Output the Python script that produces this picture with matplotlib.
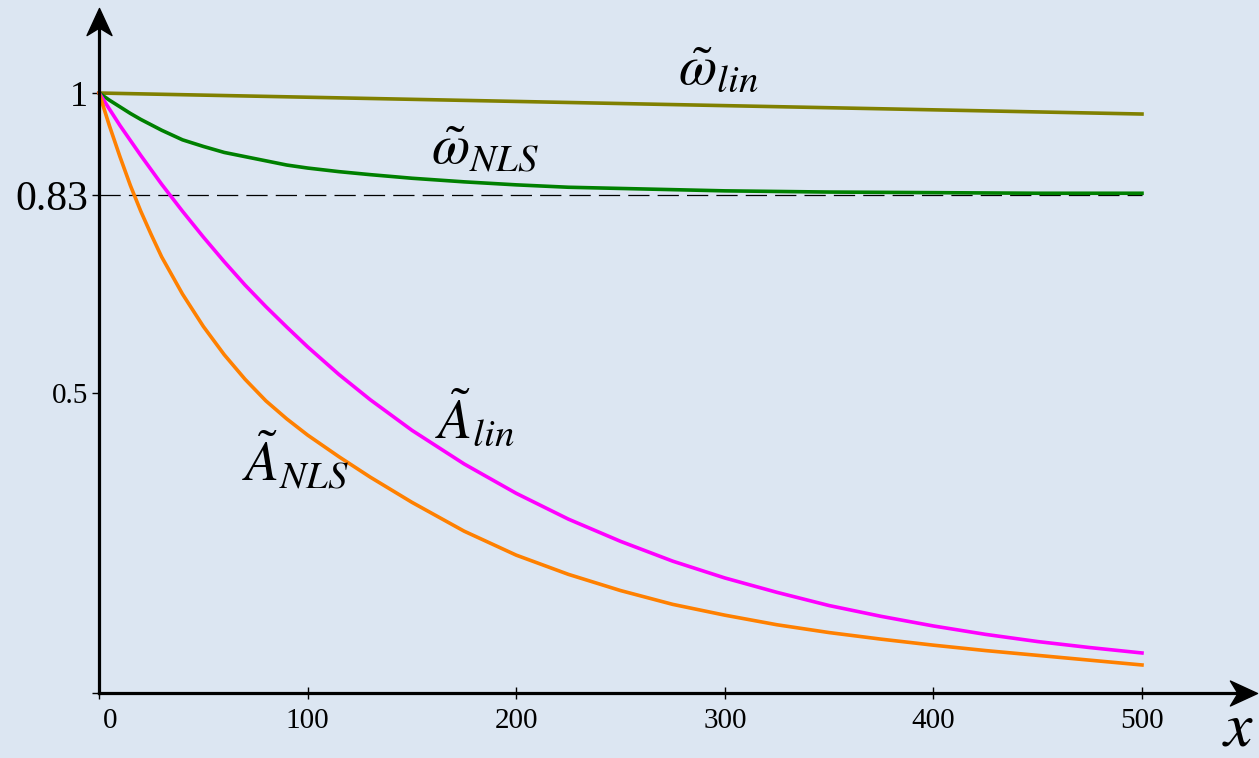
import matplotlib
matplotlib.use("Agg")
import matplotlib.pyplot as plt
import matplotlib.transforms as mtransforms
from matplotlib.path import Path
from matplotlib.markers import MarkerStyle

# ---- data ----
x = [0, 5, 10, 15, 20, 25, 30, 40, 50, 60, 70, 80, 90, 100, 115, 130, 150, 175,
     200, 225, 250, 275, 300, 325, 350, 375, 400, 425, 450, 475, 500]
omega_nls = [1.0, 0.988, 0.977, 0.966, 0.956, 0.947, 0.938, 0.922, 0.911, 0.901,
             0.894, 0.887, 0.880, 0.875, 0.869, 0.864, 0.858, 0.852, 0.847, 0.843,
             0.841, 0.839, 0.837, 0.836, 0.835, 0.8345, 0.834, 0.8335, 0.833,
             0.833, 0.833]
A_lin = [1.0, 0.973, 0.946, 0.921, 0.896, 0.872, 0.848, 0.803, 0.760, 0.719,
         0.680, 0.644, 0.610, 0.577, 0.531, 0.489, 0.438, 0.382, 0.333, 0.290,
         0.253, 0.220, 0.192, 0.168, 0.146, 0.128, 0.112, 0.098, 0.086, 0.076,
         0.067]
A_nls = [1.0, 0.945, 0.894, 0.846, 0.803, 0.764, 0.727, 0.665, 0.611, 0.564,
         0.523, 0.487, 0.457, 0.430, 0.394, 0.360, 0.318, 0.270, 0.230, 0.198,
         0.171, 0.148, 0.130, 0.114, 0.101, 0.090, 0.080, 0.071, 0.063, 0.055,
         0.047]
x_omega_lin = [0, 500]
omega_lin = [1.0, 0.965]
asymptote = 0.83
xticks = [0, 100, 200, 300, 400, 500]
xticklabels = ["0", "100", "200", "300", "400", "500"]
yticks = [0, 0.5, 0.83, 1]
yticklabels = ["", "0.5", "0.83", "1"]

plt.rcParams['mathtext.fontset'] = 'stix'
plt.rcParams['font.family'] = ['Liberation Serif', 'DejaVu Serif']

bg = '#DCE6F2'
fig = plt.figure(figsize=(12.59, 7.58), dpi=100, facecolor=bg)
ax = fig.add_axes([0, 0, 1, 1], facecolor=bg)
ax.set_xlim(-47.5, 556.1)
ax.set_ylim(-0.108, 1.155)

# curves
ax.plot([x[0], x[-1]], [asymptote, asymptote], color='black', lw=0.9,
        dashes=(17, 6.5), zorder=2)
ax.plot(x_omega_lin, omega_lin, color='#808000', lw=2.6, zorder=3)
ax.plot(x, omega_nls, color='#008000', lw=2.6, zorder=3)
ax.plot(x, A_lin, color='#FF00FF', lw=2.6, zorder=3)
ax.plot(x, A_nls, color='#FF8000', lw=2.6, zorder=3)

# axes (spines through the origin with arrow heads)
for s in ['top', 'right']:
    ax.spines[s].set_visible(False)
ax.spines['left'].set_position(('data', 0))
ax.spines['bottom'].set_position(('data', 0))
ax.spines['left'].set_bounds(0, 1.125)
ax.spines['bottom'].set_bounds(0, 547)
for s in ['left', 'bottom']:
    ax.spines[s].set_linewidth(2.3)
    ax.spines[s].set_color('black')
    ax.spines[s].set_zorder(4)

up = Path([(0, 0), (0.46, -1), (0, -0.72), (-0.46, -1), (0, 0)],
          [Path.MOVETO, Path.LINETO, Path.LINETO, Path.LINETO, Path.CLOSEPOLY])
right = Path([(0, 0), (-1, 0.46), (-0.72, 0), (-1, -0.46), (0, 0)],
             [Path.MOVETO, Path.LINETO, Path.LINETO, Path.LINETO, Path.CLOSEPOLY])
ax.plot([0], [1.142], marker=MarkerStyle(up), markersize=39, color='black',
        clip_on=False, zorder=5, linestyle='none')
ax.plot([555], [0], marker=MarkerStyle(right), markersize=39, color='black',
        clip_on=False, zorder=5, linestyle='none')

ax.set_xticks(xticks, xticklabels)
ax.set_yticks(yticks, yticklabels)
ax.tick_params(axis='x', direction='inout', length=8, width=1, pad=7,
               labelsize=21, colors='black')
ax.tick_params(axis='y', direction='out', length=5, width=1, pad=3,
               labelsize=21, colors='black')
ysizes = {"0.5": 21, "0.83": 30, "1": 26}
for lab in ax.get_yticklabels():
    t = lab.get_text()
    if t in ysizes:
        lab.set_fontsize(ysizes[t])
# the "0" label sits slightly right of the origin
for lab in ax.get_xticklabels():
    if lab.get_text() == "0":
        lab.set_transform(lab.get_transform() +
                          mtransforms.ScaledTranslation(11 / 100, 0, fig.dpi_scale_trans))

# curve labels
ax.text(297, 1.038, r'$\tilde{\omega}_{lin}$', fontsize=40, ha='center', va='center')
ax.text(185, 0.905, r'$\tilde{\omega}_{NLS}$', fontsize=40, ha='center', va='center')
ax.text(180, 0.455, r'$\tilde{A}_{lin}$', fontsize=40, ha='center', va='center')
ax.text(94, 0.385, r'$\tilde{A}_{NLS}$', fontsize=40, ha='center', va='center')
ax.text(546, -0.087, r'$x$', fontsize=46, ha='center', va='baseline')

fig.savefig('out.png', dpi=100, facecolor=bg)
